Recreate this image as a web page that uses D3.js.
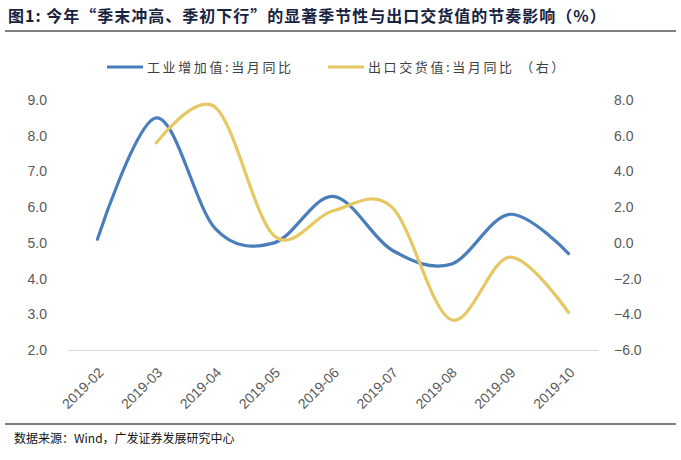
<!DOCTYPE html>
<html>
<head>
<meta charset="utf-8">
<script src="https://cdn.jsdelivr.net/npm/d3@7"></script>
<style>
body { margin: 0; background: #fff; }
text { font-family: "Liberation Sans", Arial, sans-serif; }
.cjk { font-family: "Noto Sans CJK SC", sans-serif; }
</style>
</head>
<body>
<div class="canva"></div>
<script>
// data
const months = ["2019-02","2019-03","2019-04","2019-05","2019-06","2019-07","2019-08","2019-09","2019-10"];
const industry = [5.1, 8.5, 5.4, 5.0, 6.3, 4.8, 4.4, 5.8, 4.7];
const exportVal = [null, 5.6, 7.6, 0.4, 1.8, 2.0, -4.3, -0.8, -3.9];
const leftTicks = [2,3,4,5,6,7,8,9];
const rightTicks = [-6,-4,-2,0,2,4,6,8];
const seriesNames = ["工业增加值:当月同比", "出口交货值:当月同比 （右）"];

const W = 681, H = 460;
const svg = d3.select(".canva").append("svg")
  .attr("width", W).attr("height", H);

const margin = {top:100, bottom:110, left:68, right:83};

const x = d3.scaleBand().domain(months).range([margin.left, W - margin.right]);
const yL = d3.scaleLinear().domain([2, 9]).range([H - margin.bottom, margin.top]);
const yR = d3.scaleLinear().domain([-6, 8]).range([H - margin.bottom, margin.top]);

// title
svg.append("text").attr("class", "cjk")
  .attr("x", 8).attr("y", 22)
  .style("font-size", "16px").style("font-weight", "bold").style("letter-spacing", "1px")
  .attr("fill", "#17233f")
  .text("图1: 今年“季末冲高、季初下行”的显著季节性与出口交货值的节奏影响（%）");
svg.append("line").attr("x1", 5).attr("x2", 676).attr("y1", 31).attr("y2", 31)
  .attr("stroke", "#000").attr("stroke-width", 1.2);

// bottom rule + source
svg.append("line").attr("x1", 5).attr("x2", 676).attr("y1", 424).attr("y2", 424)
  .attr("stroke", "#000").attr("stroke-width", 1.2);
svg.append("text").attr("class", "cjk")
  .attr("x", 14).attr("y", 443)
  .style("font-size", "12px").attr("fill", "#111")
  .text("数据来源：Wind，广发证券发展研究中心");

// axes
const xAxis = svg.append("g")
  .attr("transform", `translate(0, ${H - margin.bottom})`)
  .call(d3.axisBottom(x).tickSize(0));
xAxis.select(".domain").attr("stroke", "#d9d9d9");
xAxis.selectAll("text")
  .style("font-size", "14px").attr("fill", "#595959")
  .attr("text-anchor", "end")
  .attr("x", 0).attr("y", 0).attr("dy", "0.35em")
  .attr("transform", "translate(3.5,20) rotate(-45)");

const lAxis = svg.append("g")
  .attr("transform", `translate(${margin.left - 18}, 0)`)
  .call(d3.axisLeft(yL).tickValues(leftTicks).tickFormat(d3.format(".1f")).tickSize(0));
lAxis.select(".domain").remove();
lAxis.selectAll("text").style("font-size", "14px").attr("fill", "#595959");

const rAxis = svg.append("g")
  .attr("transform", `translate(${W - margin.right + 13}, 0)`)
  .call(d3.axisRight(yR).tickValues(rightTicks).tickFormat(d3.format(".1f")).tickSize(0));
rAxis.select(".domain").remove();
rAxis.selectAll("text").style("font-size", "14px").attr("fill", "#595959");

// lines
const cx = d => x(d) + x.bandwidth() / 2;
const lineL = d3.line()
  .x((d, i) => cx(months[i]))
  .y(d => yL(d))
  .curve(d3.curveCatmullRom.alpha(0));
const lineR = d3.line()
  .defined(d => d != null)
  .x((d, i) => cx(months[i]))
  .y(d => yR(d))
  .curve(d3.curveCatmullRom.alpha(0));

svg.append("path").datum(industry)
  .attr("d", lineL).attr("fill", "none")
  .attr("stroke", "#4a7ebb").attr("stroke-width", 3.2).attr("stroke-linecap", "round");
svg.append("path").datum(exportVal)
  .attr("d", lineR).attr("fill", "none")
  .attr("stroke", "#e6c862").attr("stroke-width", 3.2).attr("stroke-linecap", "round");

// legend
const legend = [{c:"#4a7ebb", x:107}, {c:"#e6c862", x:328}];
legend.forEach((l, i) => {
  svg.append("line").attr("x1", l.x).attr("x2", l.x + 36).attr("y1", 67).attr("y2", 67)
    .attr("stroke", l.c).attr("stroke-width", 3.2);
  svg.append("text").attr("class", "cjk")
    .attr("x", l.x + 40).attr("y", 72)
    .style("font-size", "13px").style("letter-spacing", "2.6px").attr("fill", "#404040")
    .text(seriesNames[i]);
});
</script>
</body>
</html>
